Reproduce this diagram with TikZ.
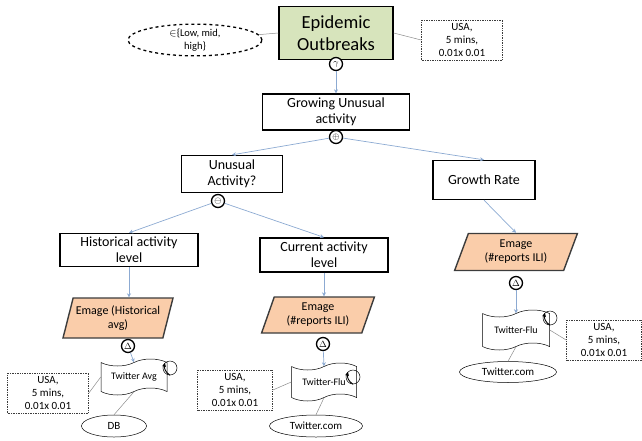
\documentclass[tikz,border=0pt]{standalone}
\usepackage{fontspec}
\setmainfont{Carlito}
\usepackage{tikz}
\usetikzlibrary{arrows.meta,positioning,calc,shapes.geometric,shapes.symbols}
\definecolor{goalfill}{RGB}{215,228,188}
\definecolor{emagefill}{RGB}{250,205,170}
\definecolor{linkblue}{RGB}{140,170,210}
\definecolor{linkgray}{RGB}{140,140,140}
\definecolor{edgedark}{RGB}{60,60,60}
\tikzset{
  goalbox/.style={draw, line width=1.4pt, fill=goalfill, align=center, inner sep=1pt,
    font=\fontsize{18.5}{22}\selectfont},
  taskbox/.style={draw, line width=1.3pt, fill=white, align=center, inner sep=1pt,
    font=\fontsize{14}{16}\selectfont},
  emagebox/.style={trapezium, trapezium left angle=70, trapezium right angle=110,
    trapezium stretches=true, draw=edgedark, line width=1.4pt, fill=emagefill,
    align=center, inner sep=1pt, font=\fontsize{12}{14}\selectfont},
  opnode/.style={circle, draw, line width=1.3pt, fill=white, inner sep=0pt,
    minimum size=13pt, font=\fontsize{9}{9}\selectfont},
  streambox/.style={tape, tape bend height=7pt, draw, line width=0.5pt, fill=white,
    inner sep=1pt, font=\fontsize{10}{12}\selectfont},
  loopc/.style={circle, draw, line width=0.5pt, inner sep=0pt, minimum size=14pt},
  loopln/.style={-{Stealth[length=4pt,width=4pt]}, line width=0.9pt},
  infobox/.style={draw=edgedark, densely dotted, line width=0.7pt, align=center,
    inner sep=1pt, minimum width=81pt, minimum height=40pt,
    font=\fontsize{11}{13}\selectfont},
  srcell/.style={ellipse, draw, line width=0.5pt, inner sep=0pt,
    font=\fontsize{11}{13}\selectfont},
  flowln/.style={-{Stealth[length=4pt,width=4pt]}, line width=0.7pt, linkblue},
  tieln/.style={line width=0.5pt, linkgray},
}
\begin{document}
\begin{tikzpicture}[x=1pt, y=-1pt]
  \useasboundingbox (0,0) rectangle (642,440);
  % goal and its context
  \node[goalbox, minimum width=114pt, minimum height=53pt] (epi) at (336,33)
    {Epidemic\\Outbreaks};
  \node[ellipse, draw, dashed, line width=1.3pt, minimum width=134pt, minimum height=31pt,
    inner sep=0pt, align=center, font=\fontsize{10.5}{13}\selectfont] (lvl) at (195,40)
    {$\in$\{Low, mid,\\high\}};
  \node[infobox] (usa0) at (462,40) {USA,\\5 mins,\\0.01x 0.01};
  \draw[tieln] (lvl) -- (epi.west);
  \draw[tieln] (epi.east) -- (usa0.west);
  \node[opnode] (opg) at (336,64) {$\gamma$};

  % growing unusual activity
  \node[taskbox, minimum width=147pt, minimum height=36pt] (grow) at (336,112)
    {Growing Unusual\\activity};
  \draw[flowln] (opg) -- (grow);
  \node[opnode] (opp) at (336,137) {$\oplus$};
  \node[taskbox, minimum width=101pt, minimum height=37pt] (unus) at (232,174)
    {Unusual\\Activity?};
  \node[taskbox, minimum width=102pt, minimum height=39pt] (rate) at (484,180)
    {Growth Rate};
  \draw[flowln] (opp) -- (unus.north);
  \draw[flowln] (opp) -- (rate.north);
  \node[opnode] (opm) at (218,201) {$\ominus$};

  % activity levels
  \node[taskbox, minimum width=138pt, minimum height=33pt] (hist) at (129,250)
    {Historical activity\\level};
  \node[taskbox, minimum width=128pt, minimum height=34pt] (curr) at (324,255)
    {Current activity\\level};
  \draw[flowln] (opm) -- (hist.north);
  \draw[flowln] (opm) -- (curr.north);

  % emages
  \node[emagebox, minimum width=110pt, minimum height=40pt] (em1) at (118,318)
    {Emage (Historical\\avg)};
  \node[emagebox, minimum width=113pt, minimum height=36pt] (em2) at (318,315)
    {Emage\\(\#reports ILI)};
  \node[emagebox, minimum width=123pt, minimum height=37pt] (em3) at (516,252)
    {Emage\\(\#reports ILI)};
  \draw[flowln] (hist.south) -- (hist.south |- em1.north);
  \draw[flowln] (curr.south) -- (curr.south |- em2.north);
  \draw[flowln] (rate.south) -- (em3.north);
  \node[opnode] (dl1) at (128,346) {$\Delta$};
  \node[opnode] (dl2) at (323,344) {$\Delta$};
  \node[opnode] (dl3) at (516,283) {$\Delta$};

  % streams
  \node[streambox, minimum width=66pt, minimum height=36pt] (tw1) at (134,377) {Twitter Avg};
  \node[streambox, minimum width=65pt, minimum height=38pt] (tw2) at (324,382) {Twitter-Flu};
  \node[streambox, minimum width=67pt, minimum height=40pt] (tw3) at (516,330) {Twitter-Flu};
  \foreach \k/\p in {1/{(170,368)}, 2/{(353,377)}, 3/{(550,318)}} {
    \node[loopc] (lp\k) at \p {};
    \draw[loopln] (lp\k.south) to[bend left=35] (lp\k.north west);
    \draw[flowln] (dl\k) -- (tw\k.north);
  }
  \node[infobox] (usa1) at (48,393) {USA,\\5 mins,\\0.01x 0.01};
  \node[infobox, minimum width=75pt] (usa2) at (235,390) {USA,\\5 mins,\\0.01x 0.01};
  \node[infobox, minimum width=75pt] (usa3) at (604,340) {USA,\\5 mins,\\0.01x 0.01};
  \node[srcell, minimum width=65pt, minimum height=22pt] (db) at (114,426) {DB};
  \node[srcell, minimum width=93pt, minimum height=22pt] (tc2) at (316,426) {Twitter.com};
  \node[srcell, minimum width=97pt, minimum height=21pt] (tc3) at (508,372) {Twitter.com};
  \draw[tieln] (tw1.west) -- (usa1.east);
  \draw[tieln] (tw2.west) -- (usa2.east);
  \draw[tieln] (tw3.east) -- (usa3.west);
  \draw[tieln] (tw1.south) -- (db.north);
  \draw[tieln] (tw2.south) -- (tc2.north);
  \draw[tieln] (tw3.south) -- (tc3.north);
\end{tikzpicture}
\end{document}
